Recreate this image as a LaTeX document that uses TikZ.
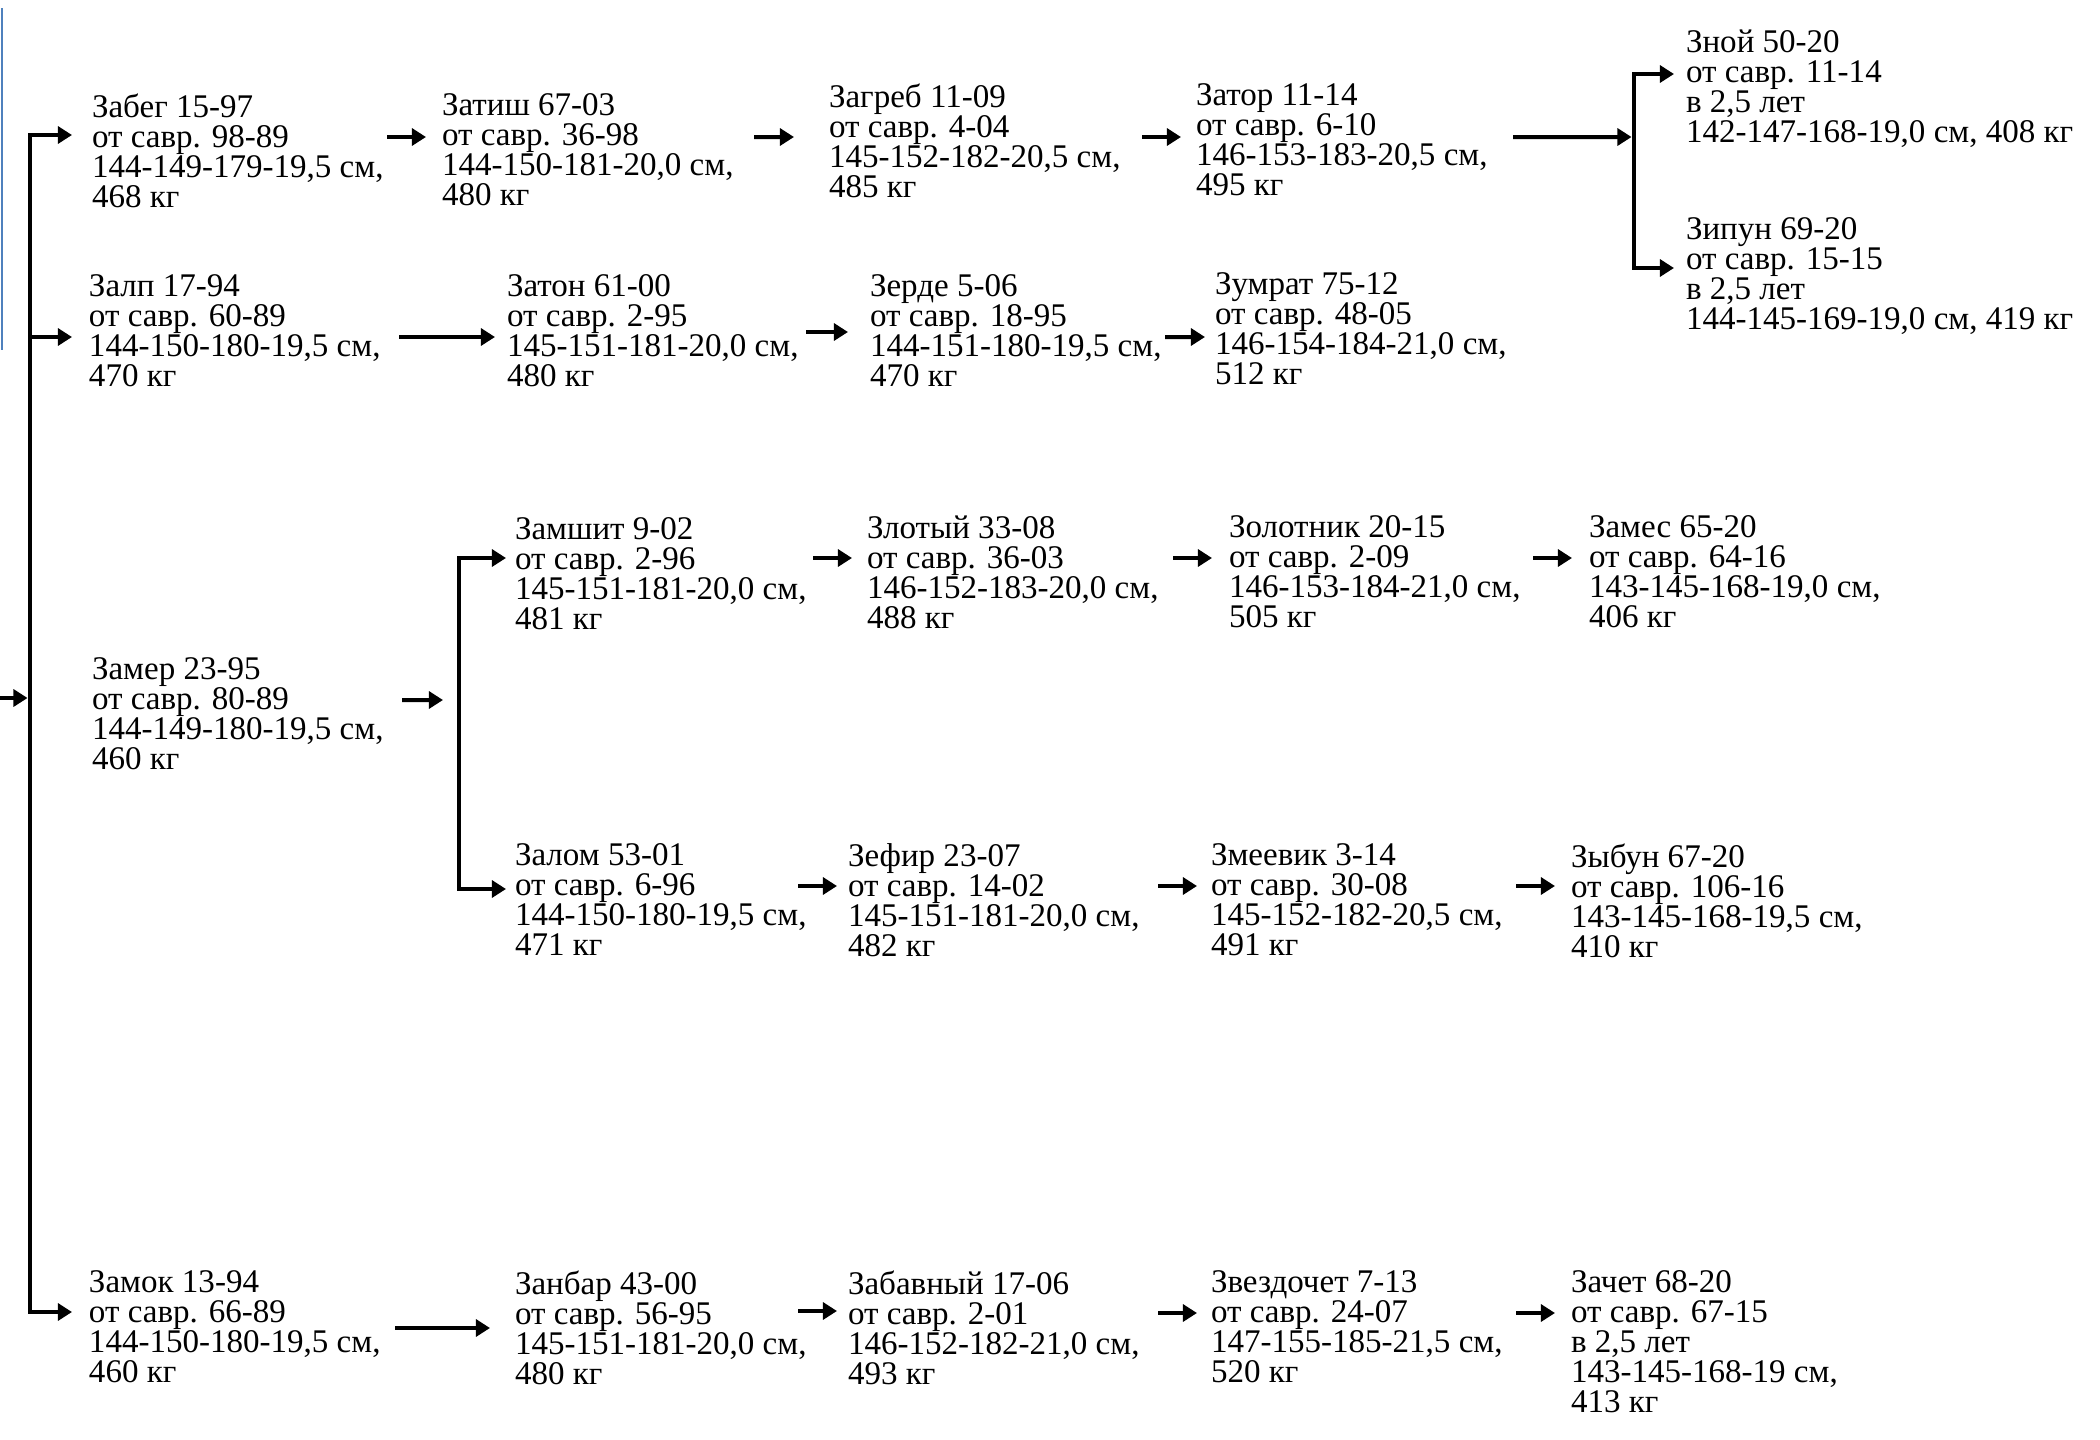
\documentclass[tikz,border=0pt]{standalone}
\usepackage{fontspec}
\setmainfont{Liberation Serif}
\usepackage{xcolor}
\usetikzlibrary{arrows.meta}
\definecolor{slideblue}{RGB}{79,129,189}

\begin{document}
\begin{tikzpicture}[->,
			>={Triangle[length=4pt,width=4.8pt]},
			line width=0.04cm,
			rec/.style={anchor=north west, align=left, inner sep=0pt, font=\fontsize{9.4pt}{8.5pt}\selectfont}]
			
			\useasboundingbox (0,0) rectangle (21,-14.4);
			\draw[-, draw=slideblue, line width=0.02cm] (0.02,-0.08) -- (0.02,-3.50);
			
			\node[rec] (zabeg) at (0.90,-0.92) {Забег 15-97\\от савр. 98-89\\144-149-179-19,5 см,\\468 кг};
			\node[rec] (zatish) at (4.40,-0.92) {Затиш 67-03\\от савр. 36-98\\144-150-181-20,0 см,\\480 кг};
			\node[rec] (zagreb) at (8.27,-0.82) {Загреб 11-09\\от савр. 4-04\\145-152-182-20,5 см,\\485 кг};
			\node[rec] (zator) at (11.94,-0.82) {Затор 11-14\\от савр. 6-10\\146-153-183-20,5 см,\\495 кг};
			\node[rec] (znoy) at (16.84,-0.28) {Зной 50-20\\от савр. 11-14\\в 2,5 лет\\142-147-168-19,0 см, 408 кг};
			\node[rec] (zipun) at (16.84,-2.16) {Зипун 69-20\\от савр. 15-15\\в 2,5 лет\\144-145-169-19,0 см, 419 кг};
			
			\node[rec] (zalp) at (0.87,-2.73) {Залп 17-94\\от савр. 60-89\\144-150-180-19,5 см,\\470 кг};
			\node[rec] (zaton) at (5.05,-2.73) {Затон 61-00\\от савр. 2-95\\145-151-181-20,0 см,\\480 кг};
			\node[rec] (zerde) at (8.68,-2.73) {Зерде 5-06\\от савр. 18-95\\144-151-180-19,5 см,\\470 кг};
			\node[rec] (zumrat) at (12.13,-2.71) {Зумрат 75-12\\от савр. 48-05\\146-154-184-21,0 см,\\512 кг};
			
			\node[rec] (zamer) at (0.90,-6.56) {Замер 23-95\\от савр. 80-89\\144-149-180-19,5 см,\\460 кг};
			\node[rec] (zamshit) at (5.13,-5.16) {Замшит 9-02\\от савр. 2-96\\145-151-181-20,0 см,\\481 кг};
			\node[rec] (zlotyi) at (8.65,-5.14) {Злотый 33-08\\от савр. 36-03\\146-152-183-20,0 см,\\488 кг};
			\node[rec] (zolotnik) at (12.27,-5.14) {Золотник 20-15\\от савр. 2-09\\146-153-184-21,0 см,\\505 кг};
			\node[rec] (zames) at (15.87,-5.14) {Замес 65-20\\от савр. 64-16\\143-145-168-19,0 см,\\406 кг};
			
			\node[rec] (zalom) at (5.13,-8.42) {Залом 53-01\\от савр. 6-96\\144-150-180-19,5 см,\\471 кг};
			\node[rec] (zefir) at (8.46,-8.42) {Зефир 23-07\\от савр. 14-02\\145-151-181-20,0 см,\\482 кг};
			\node[rec] (zmeevik) at (12.09,-8.42) {Змеевик 3-14\\от савр. 30-08\\145-152-182-20,5 см,\\491 кг};
			\node[rec] (zybun) at (15.69,-8.42) {Зыбун 67-20\\от савр. 106-16\\143-145-168-19,5 см,\\410 кг};
			
			\node[rec] (zamok) at (0.87,-12.69) {Замок 13-94\\от савр. 66-89\\144-150-180-19,5 см,\\460 кг};
			\node[rec] (zanbar) at (5.13,-12.69) {Занбар 43-00\\от савр. 56-95\\145-151-181-20,0 см,\\480 кг};
			\node[rec] (zabavnyi) at (8.46,-12.69) {Забавный 17-06\\от савр. 2-01\\146-152-182-21,0 см,\\493 кг};
			\node[rec] (zvezdochet) at (12.09,-12.69) {Звездочет 7-13\\от савр. 24-07\\147-155-185-21,5 см,\\520 кг};
			\node[rec] (zachet) at (15.69,-12.69) {Зачет 68-20\\от савр. 67-15\\в 2,5 лет\\143-145-168-19 см,\\413 кг};
			
			\coordinate (in) at (0,-6.98);
			\coordinate (stem) at (0.30,-6.98);
			\coordinate (fork) at (16.34,-1.37);
			\coordinate (split) at (4.59,-7.00);
			
			\draw[shorten >=0.7pt] (in) -- (stem);
			\draw (stem) |- ([shift={(-0.18,-0.43)}]zabeg.north west);
			\draw (stem) |- ([shift={(-0.15,-0.64)}]zalp.north west);
			\draw (stem) |- ([shift={(-0.15,-0.43)}]zamok.north west);
			
			\draw ([shift={(2.97,-0.45)}]zabeg.north west) -- ([shift={(-0.14,-0.45)}]zatish.north west);
			\draw ([shift={(3.14,-0.45)}]zatish.north west) -- ([shift={(-0.33,-0.55)}]zagreb.north west);
			\draw ([shift={(3.15,-0.55)}]zagreb.north west) -- ([shift={(-0.13,-0.55)}]zator.north west);
			\draw[shorten >=0.7pt] ([shift={(3.19,-0.55)}]zator.north west) -- (fork);
			\draw (fork) |- ([shift={(-0.10,-0.46)}]znoy.north west);
			\draw (fork) |- ([shift={(-0.10,-0.52)}]zipun.north west);
			
			\draw ([shift={(3.12,-0.64)}]zalp.north west) -- ([shift={(-0.10,-0.64)}]zaton.north west);
			\draw ([shift={(3.01,-0.59)}]zaton.north west) -- ([shift={(-0.20,-0.59)}]zerde.north west);
			\draw ([shift={(2.97,-0.64)}]zerde.north west) -- ([shift={(-0.08,-0.66)}]zumrat.north west);
			
			\draw ([shift={(3.12,-0.44)}]zamer.north west) -- ([xshift=-0.16cm]split);
			\draw (split) |- ([shift={(-0.07,-0.42)}]zamshit.north west);
			\draw (split) |- ([shift={(-0.07,-0.47)}]zalom.north west);
			\draw ([shift={(3.00,-0.42)}]zamshit.north west) -- ([shift={(-0.13,-0.44)}]zlotyi.north west);
			\draw ([shift={(3.08,-0.44)}]zlotyi.north west) -- ([shift={(-0.15,-0.44)}]zolotnik.north west);
			\draw ([shift={(3.06,-0.44)}]zolotnik.north west) -- ([shift={(-0.15,-0.44)}]zames.north west);
			
			\draw ([shift={(2.85,-0.44)}]zalom.north west) -- ([shift={(-0.09,-0.44)}]zefir.north west);
			\draw ([shift={(3.12,-0.44)}]zefir.north west) -- ([shift={(-0.12,-0.44)}]zmeevik.north west);
			\draw ([shift={(3.07,-0.44)}]zmeevik.north west) -- ([shift={(-0.14,-0.44)}]zybun.north west);
			
			\draw ([shift={(3.08,-0.59)}]zamok.north west) -- ([shift={(-0.23,-0.59)}]zanbar.north west);
			\draw ([shift={(2.85,-0.42)}]zanbar.north west) -- ([shift={(-0.09,-0.42)}]zabavnyi.north west);
			\draw ([shift={(3.12,-0.44)}]zabavnyi.north west) -- ([shift={(-0.12,-0.44)}]zvezdochet.north west);
			\draw ([shift={(3.07,-0.44)}]zvezdochet.north west) -- ([shift={(-0.14,-0.44)}]zachet.north west);
		\end{tikzpicture}
\end{document}
